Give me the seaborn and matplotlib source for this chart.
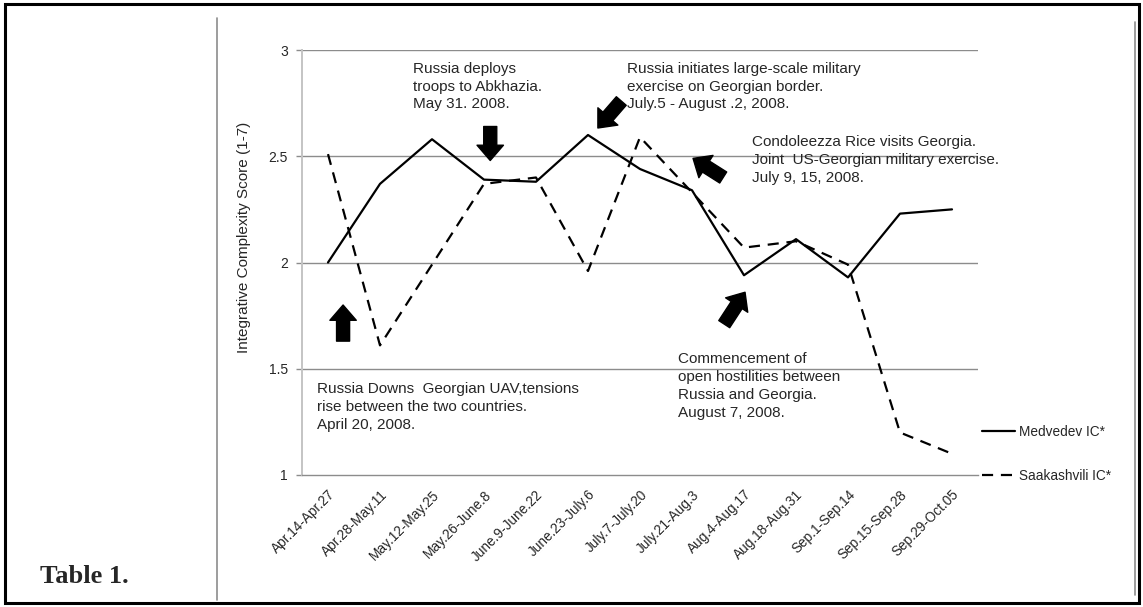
import numpy as np
import pandas as pd
import matplotlib
matplotlib.use("Agg")
import matplotlib.pyplot as plt
from matplotlib.lines import Line2D
from matplotlib.patches import Rectangle
import seaborn as sns

# --- data ---
periods = ['Apr.14-Apr.27', 'Apr.28-May.11', 'May.12-May.25', 'May.26-June.8',
           'June.9-June.22', 'June.23-July.6', 'July.7-July.20', 'July.21-Aug.3',
           'Aug.4-Aug.17', 'Aug.18-Aug.31', 'Sep.1-Sep.14', 'Sep.15-Sep.28',
           'Sep.29-Oct.05']
medvedev = [2.00, 2.37, 2.58, 2.39, 2.38, 2.60, 2.44, 2.34, 1.94, 2.11, 1.93, 2.23, 2.25]
saakashvili = [2.51, 1.61, 1.99, 2.37, 2.40, 1.96, 2.59, 2.33, 2.07, 2.10, 1.99, 1.20, 1.10]
series_names = ['Medvedev IC*', 'Saakashvili IC*']
yticks = [1, 1.5, 2, 2.5, 3]
ylabel = 'Integrative Complexity Score (1-7)'

df = pd.DataFrame({
    'period': periods * 2,
    'score': medvedev + saakashvili,
    'leader': [series_names[0]] * len(periods) + [series_names[1]] * len(periods),
})

# --- style ---
sns.set_theme(style="white")
plt.rcParams['font.family'] = ['Liberation Sans', 'DejaVu Sans']
GRID = '#8c8c8c'

fig = plt.figure(figsize=(11.43, 6.07), dpi=100)
ax = fig.add_axes([302 / 1143, 1 - 475 / 607, 676 / 1143, 425 / 607])

sns.lineplot(data=df, x='period', y='score', style='leader',
             dashes={series_names[0]: '', series_names[1]: (5, 3.5)},
             color='black', linewidth=1.6, sort=False, legend=False, ax=ax)

ax.set_xlim(-0.5, len(periods) - 0.5)
ax.set_ylim(1, 3)
ax.set_yticks(yticks)
ax.set_yticklabels(['1', '1.5', '2', '2.5', '3'], fontsize=10)
ax.set_xticks(range(len(periods)))
ax.set_xticklabels(periods, rotation=45, ha='right', rotation_mode='anchor', fontsize=9.8)
ax.set_xticks(np.arange(-0.5, len(periods)), minor=True)
ax.tick_params(axis='x', which='major', length=0, pad=9)
ax.tick_params(axis='x', which='minor', length=5, color=GRID, width=1, direction='out')
ax.tick_params(axis='y', length=4, color=GRID, width=1, direction='out', pad=6, left=True)
ax.set_xlabel('')
ax.set_ylabel(ylabel, fontsize=11)
ax.yaxis.set_label_coords(-0.075, 0.56)

for y in yticks[1:]:
    ax.axhline(y, color=GRID, lw=1, zorder=0)
ax.spines[['top', 'right']].set_visible(False)
ax.spines['left'].set_color('#c4c4c4')
ax.spines['left'].set_linewidth(1.4)
ax.spines['bottom'].set_color(GRID)
ax.spines['bottom'].set_linewidth(1)

# --- event notes and arrows ---
note_kw = dict(fontsize=11, va='top', ha='left', linespacing=1.35)
ax.text(1.63, 2.945, 'Russia deploys\ntroops to Abkhazia.\nMay 31. 2008.', **note_kw)
ax.text(5.75, 2.945, 'Russia initiates large-scale military\nexercise on Georgian border.\n'
        'July.5 - August .2, 2008.', **note_kw)
ax.text(8.15, 2.60, 'Condoleezza Rice visits Georgia.\nJoint  US-Georgian military exercise.\n'
        'July 9, 15, 2008.', **note_kw)
ax.text(-0.21, 1.437, 'Russia Downs  Georgian UAV,tensions\nrise between the two countries.\n'
        'April 20, 2008.', **note_kw)
ax.text(6.73, 1.578, 'Commencement of\nopen hostilities between\nRussia and Georgia.\n'
        'August 7, 2008.', **note_kw)

arrow_kw = dict(arrowstyle='simple,head_length=0.55,head_width=0.95,tail_width=0.47',
                fc='black', ec='black', shrinkA=0, shrinkB=0, mutation_scale=20)
for tail, tip in [((3.12, 2.64), (3.12, 2.48)),
                  ((0.29, 1.63), (0.29, 1.80)),
                  ((5.64, 2.76), (5.19, 2.633)),
                  ((7.6, 2.40), (7.02, 2.49)),
                  ((7.62, 1.71), (8.02, 1.86))]:
    ax.annotate('', xy=tip, xytext=tail, arrowprops=arrow_kw)

# --- legend on the right ---
handles = [Line2D([], [], color='black', lw=1.6),
           Line2D([], [], color='black', lw=1.6, dashes=(5, 3.5))]
ax.legend(handles, series_names, loc='upper left', bbox_to_anchor=(1.006, 0.118),
          frameon=False, fontsize=9.8, borderpad=0, borderaxespad=0,
          handlelength=2.4, handletextpad=0.3, labelspacing=2.2)

# --- frame, chart border and caption ---
fig.patches.append(Rectangle((5 / 1143, 4 / 607), 1134 / 1143, 599 / 607,
                             transform=fig.transFigure, fill=False, ec='black', lw=2.2))
fig.lines.append(Line2D([217 / 1143] * 2, [1 - 18 / 607, 1 - 600 / 607],
                        transform=fig.transFigure, color=GRID, lw=1.2))
fig.lines.append(Line2D([1135 / 1143] * 2, [1 - 22 / 607, 1 - 595 / 607],
                        transform=fig.transFigure, color=GRID, lw=1.2))
fig.text(40 / 1143, 1 - 583 / 607, 'Table 1.', family=['Liberation Serif', 'DejaVu Serif'],
         fontweight='bold', fontsize=19, ha='left', va='baseline')

fig.savefig('out.png', dpi=100)
